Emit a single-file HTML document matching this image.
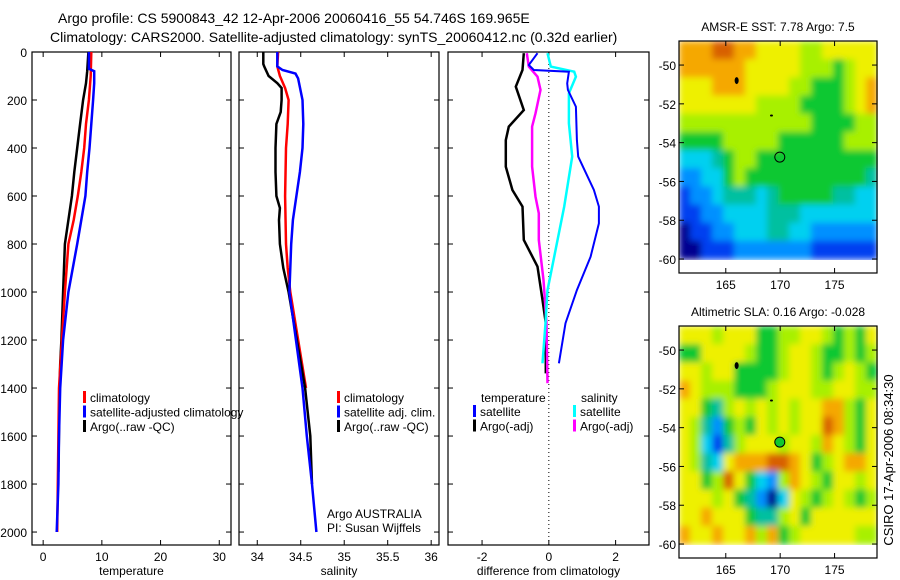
<!DOCTYPE html>
<html><head><meta charset="utf-8">
<style>
html,body{margin:0;padding:0;background:#fff;}
svg{display:block;font-family:"Liberation Sans",sans-serif;}
</style></head>
<body>
<svg id="fig" width="900" height="580" viewBox="0 0 900 580">
<defs>
<filter id="smooth" x="0" y="0" width="1" height="1" primitiveUnits="userSpaceOnUse">
<feGaussianBlur stdDeviation="3.2" edgeMode="duplicate"/>
</filter>
</defs>
<rect width="900" height="580" fill="#fff"/>
<text x="58" y="23" font-size="14">Argo profile: CS 5900843_42 12-Apr-2006 20060416_55 54.746S 169.965E</text>
<text x="50" y="42" font-size="14">Climatology: CARS2000. Satellite-adjusted climatology: synTS_20060412.nc (0.32d earlier)</text>
<text transform="translate(893,460) rotate(-90)" text-anchor="middle" font-size="13">CSIRO 17-Apr-2006 08:34:30</text>
</svg>
<script>
// ---------- data ----------
const depthTicks=[0,200,400,600,800,1000,1200,1400,1600,1800,2000];
const tempTicks=[0,10,20,30];
const salTicks=[34,34.5,35,35.5,36];
const salTickLabels=["34","34.5","35","35.5","36"];
const diffTicks=[-2,0,2];

const tClimDepth=[0,100,200,300,400,500,600,700,800,1000,1200,1400,2000];
const tClimVal=[8.2,8.1,7.8,7.3,7.0,6.5,5.9,5.2,4.3,3.7,3.2,2.7,2.4];
const tSatDepth=[0,70,80,130,200,300,400,500,600,700,800,1000,1200,1400,1600,1800,2000];
const tSatVal=[7.8,7.8,8.7,8.7,8.5,8.2,7.9,7.5,7.2,6.5,5.8,4.3,3.4,2.9,2.7,2.6,2.3];
const tArgoDepth=[0,80,130,200,300,400,500,600,700,800,1000,1200,1300,1400,1750];
const tArgoVal=[7.7,7.5,7.3,6.8,6.3,5.8,5.3,4.9,4.3,3.7,3.4,3.1,2.9,2.8,2.6];

const sClimDepth=[0,60,100,150,200,300,400,600,800,900,1000,1400];
const sClimVal=[34.24,34.23,34.26,34.32,34.36,34.35,34.33,34.32,34.33,34.35,34.38,34.56];
const sSatDepth=[0,60,75,90,110,200,300,400,500,600,700,800,1000,1400,1600,1800,2000];
const sSatVal=[34.23,34.23,34.29,34.44,34.47,34.52,34.53,34.52,34.49,34.45,34.41,34.39,34.37,34.52,34.57,34.63,34.68];
const sArgoDepth=[0,50,60,100,130,150,200,250,300,400,500,600,650,700,800,900,1000,1400,1600,1800];
const sArgoVal=[34.07,34.07,34.08,34.13,34.23,34.28,34.28,34.27,34.22,34.21,34.21,34.22,34.26,34.25,34.26,34.30,34.36,34.55,34.61,34.63];

const dTempSatDepth=[5,54,75,82,131,158,228,367,436,575,644,714,853,992,1130,1297];
const dTempSatVal=[-0.34,-0.6,-0.45,0.6,0.55,0.57,0.81,0.84,0.88,1.35,1.5,1.5,1.25,0.84,0.5,0.3];
const dTempArgoDepth=[5,75,144,242,311,367,478,575,644,783,894,1033,1130,1339];
const dTempArgoVal=[-0.75,-0.79,-0.99,-0.75,-1.2,-1.29,-1.29,-1.09,-0.79,-0.75,-0.34,-0.19,-0.09,-0.09];
const dSalSatDepth=[5,61,82,103,172,297,436,644,853,992,1130,1297];
const dSalSatVal=[-0.04,0.06,0.76,0.81,0.6,0.6,0.7,0.46,0.16,-0.04,-0.1,-0.19];
const dSalArgoDepth=[5,61,103,158,256,311,478,603,672,783,950,1130,1380];
const dSalArgoVal=[-0.66,-0.6,-0.34,-0.25,-0.4,-0.5,-0.5,-0.4,-0.3,-0.3,-0.16,-0.07,-0.04];

const lonTicks=[165,170,175];
const latTicks=[50,52,54,56,58,60];
const sstRows=[
"888998877776677777",
"888888777776665677",
"777888777766555678",
"777777766665555678",
"666666666666555566",
"555566666555555666",
"333456655555555555",
"223356555555555554",
"122344434555554433",
"112233334443333333",
"011223334433222222",
"001112222222111111"];
const slaRows=[
"777677755667765657",
"557777655677655656",
"776775555677656765",
"876665556777667766",
"775467676767788657",
"764256576767798657",
"763146777677687657",
"764378889987567887",
"775697532687657767",
"777675420376567656",
"778777544675777777",
"877877868567777766"];
const jet=["#000090","#0040f0","#0090ff","#00d0f0","#00c0a0","#10c830","#a8f000","#eef000","#f5a800","#d86000"];
const argoLon=169.965, argoLat=54.746;
const islandLon=[166.0,169.2], islandLat=[50.8,52.6];

// ---------- helpers ----------
const NS="http://www.w3.org/2000/svg";
const fig=document.getElementById('fig');
function mk(tag,attrs,parent){const e=document.createElementNS(NS,tag);for(const k in attrs)e.setAttribute(k,attrs[k]);(parent||fig).appendChild(e);return e;}
function txt(x,y,s,size,anchor,parent){const e=mk('text',{x:x,y:y,'font-size':size,'text-anchor':anchor||'start'},parent);e.textContent=s;return e;}

const Y0=52, Y1=545, D0=0, D1=2054;
function yD(d){return Y0+(d-D0)/(D1-D0)*(Y1-Y0);}

function panel(name,left,right,xmin,xmax,xticks,xlabels,xtitle,showY){
  const g=mk('g',{});
  
  
  const sx=v=>left+(v-xmin)/(xmax-xmin)*(right-left);
  const fr=mk('rect',{x:left,y:Y0,width:right-left,height:Y1-Y0,fill:'none',stroke:'#000','stroke-width':1.2},g);
  
  
  xticks.forEach((v,i)=>{
    const x=sx(v);
    mk('line',{x1:x,x2:x,y1:Y1,y2:Y1-5,stroke:'#000'},g);
    mk('line',{x1:x,x2:x,y1:Y0,y2:Y0+5,stroke:'#000'},g);
    const t=txt(x,Y1+16,xlabels[i],12,'middle',g);
    
    
  });
  depthTicks.forEach(d=>{
    const y=yD(d);
    mk('line',{x1:left,x2:left+5,y1:y,y2:y,stroke:'#000'},g);
    mk('line',{x1:right,x2:right-5,y1:y,y2:y,stroke:'#000'},g);
    if(showY){const t=txt(left-5,y+5,String(d),12,'end',g);
      
      }
  });
  const xt=txt((left+right)/2,Y1+30,xtitle,12,'middle',g);
  
  
  return {g,sx};
}
function series(p,name,depths,vals,color,w){
  const pts=depths.map((d,i)=>p.sx(vals[i]).toFixed(1)+','+yD(d).toFixed(1)).join(' ');
  const l=mk('polyline',{points:pts,fill:'none',stroke:color,'stroke-width':w||2.5,'stroke-linejoin':'miter'},p.g);
  
  
}
function legend(p,x,y,labels,colors,prefix){
  labels.forEach((s,i)=>{
    const yy=y+i*14.5;
    const m=mk('rect',{x:x,y:yy-11,width:3,height:12,fill:colors[i]},p.g);
    
    
    const t=txt(x+7,yy,s,12,'start',p.g);
    
    
  });
}

// Temperature panel
const p1=panel('temperature-panel',32,231,-1.9,32,tempTicks,tempTicks.map(String),'temperature',true);
series(p1,'temp-argo-line',tArgoDepth,tArgoVal,'#000');
series(p1,'temp-climatology-line',tClimDepth,tClimVal,'#f00');
series(p1,'temp-satellite-line',tSatDepth,tSatVal,'#00f');
legend(p1,83,402,['climatology','satellite-adjusted climatology','Argo(..raw -QC)'],['#f00','#00f','#000'],'temp');

// Salinity panel
const p2=panel('salinity-panel',239,439,33.79,36.09,salTicks,salTickLabels,'salinity',false);
series(p2,'sal-climatology-line',sClimDepth,sClimVal,'#f00');
series(p2,'sal-argo-line',sArgoDepth,sArgoVal,'#000');
series(p2,'sal-satellite-line',sSatDepth,sSatVal,'#00f');
legend(p2,337,402,['climatology','satellite adj. clim.','Argo(..raw -QC)'],['#f00','#00f','#000'],'sal');
const a1=txt(327,518,'Argo AUSTRALIA',12,'start',p2.g);


const a2=txt(327,532,'PI: Susan Wijffels',12,'start',p2.g);



// Difference panel
const p3=panel('difference-panel',448,649,-3.02,3.0,diffTicks,diffTicks.map(String),'difference from climatology',false);
const zl=mk('line',{x1:p3.sx(0),x2:p3.sx(0),y1:Y0,y2:Y1,stroke:'#000','stroke-dasharray':'1,3'},p3.g);


series(p3,'diff-temp-argo-line',dTempArgoDepth,dTempArgoVal,'#000');
series(p3,'diff-sal-argo-line',dSalArgoDepth,dSalArgoVal,'#f0f');
series(p3,'diff-sal-satellite-line',dSalSatDepth,dSalSatVal,'#0ff');
series(p3,'diff-temp-satellite-line',dTempSatDepth,dTempSatVal,'#00f',2);
const h1=txt(481,402,'temperature',12,'start',p3.g);


const h2=txt(581,402,'salinity',12,'start',p3.g);


legend(p3,473,416,['satellite','Argo(-adj)'],['#00f','#000'],'diff-temp');
legend(p3,573,416,['satellite','Argo(-adj)'],['#0ff','#f0f'],'diff-sal');

// Maps
function map(name,top,bottom,rows,title,fillCircle){
  const L=679,R=877,lonMin=160.7,lonMax=178.9,latMin=48.76,latMax=60.72;
  const g=mk('g',{});
  
  
  const sx=v=>L+(v-lonMin)/(lonMax-lonMin)*(R-L);
  const sy=v=>top+(v-latMin)/(latMax-latMin)*(bottom-top);
  const nr=rows.length, nc=rows[0].length;
  const la0=latMin, la1=60, lo0=lonMin, lo1=lonMax;
  const cells=mk('g',{filter:'url(#smooth)'},g);
  
  
  rows.forEach((row,r)=>{
    for(let c=0;c<nc;c++){
      const x0=sx(lo0+(lo1-lo0)*c/nc), x1=sx(lo0+(lo1-lo0)*(c+1)/nc);
      const y0=sy(la0+(la1-la0)*r/nr), y1=sy(la0+(la1-la0)*(r+1)/nr);
      const cell=mk('rect',{x:x0,y:y0,width:x1-x0+0.6,height:y1-y0+0.6,fill:jet[+row[c]]},cells);
      
      
    }
  });
  const fr=mk('rect',{x:L,y:top,width:R-L,height:bottom-top,fill:'none',stroke:'#000','stroke-width':1.2},g);
  
  
  lonTicks.forEach(v=>{
    const x=sx(v);
    mk('line',{x1:x,x2:x,y1:bottom,y2:bottom-5,stroke:'#000'},g);
    mk('line',{x1:x,x2:x,y1:top,y2:top+5,stroke:'#000'},g);
    const t=txt(x,bottom+16,String(v),12,'middle',g);
    
    
  });
  latTicks.forEach(v=>{
    const y=sy(v);
    mk('line',{x1:L,x2:L+5,y1:y,y2:y,stroke:'#000'},g);
    mk('line',{x1:R,x2:R-5,y1:y,y2:y,stroke:'#000'},g);
    const t=txt(L-3,y+5,'-'+v,12,'end',g);
    
    
  });
  islandLon.forEach((lo,i)=>{
    const isl=mk('ellipse',{cx:sx(lo),cy:sy(islandLat[i]),rx:i?1.5:2,ry:i?1:3.5,fill:'#000'},g);
    
    
  });
  const c=mk('circle',{cx:sx(argoLon),cy:sy(argoLat),r:5,fill:fillCircle?'#10c830':'none',stroke:'#000','stroke-width':1},g);
  
  
  const t=txt((L+R)/2,top-10,title,12,'middle',g);
  
  
}
map('sst-map',41,273,sstRows,'AMSR-E SST: 7.78 Argo: 7.5',false);
map('sla-map',326,558,slaRows,'Altimetric SLA: 0.16 Argo: -0.028',true);
</script>
</body></html>
